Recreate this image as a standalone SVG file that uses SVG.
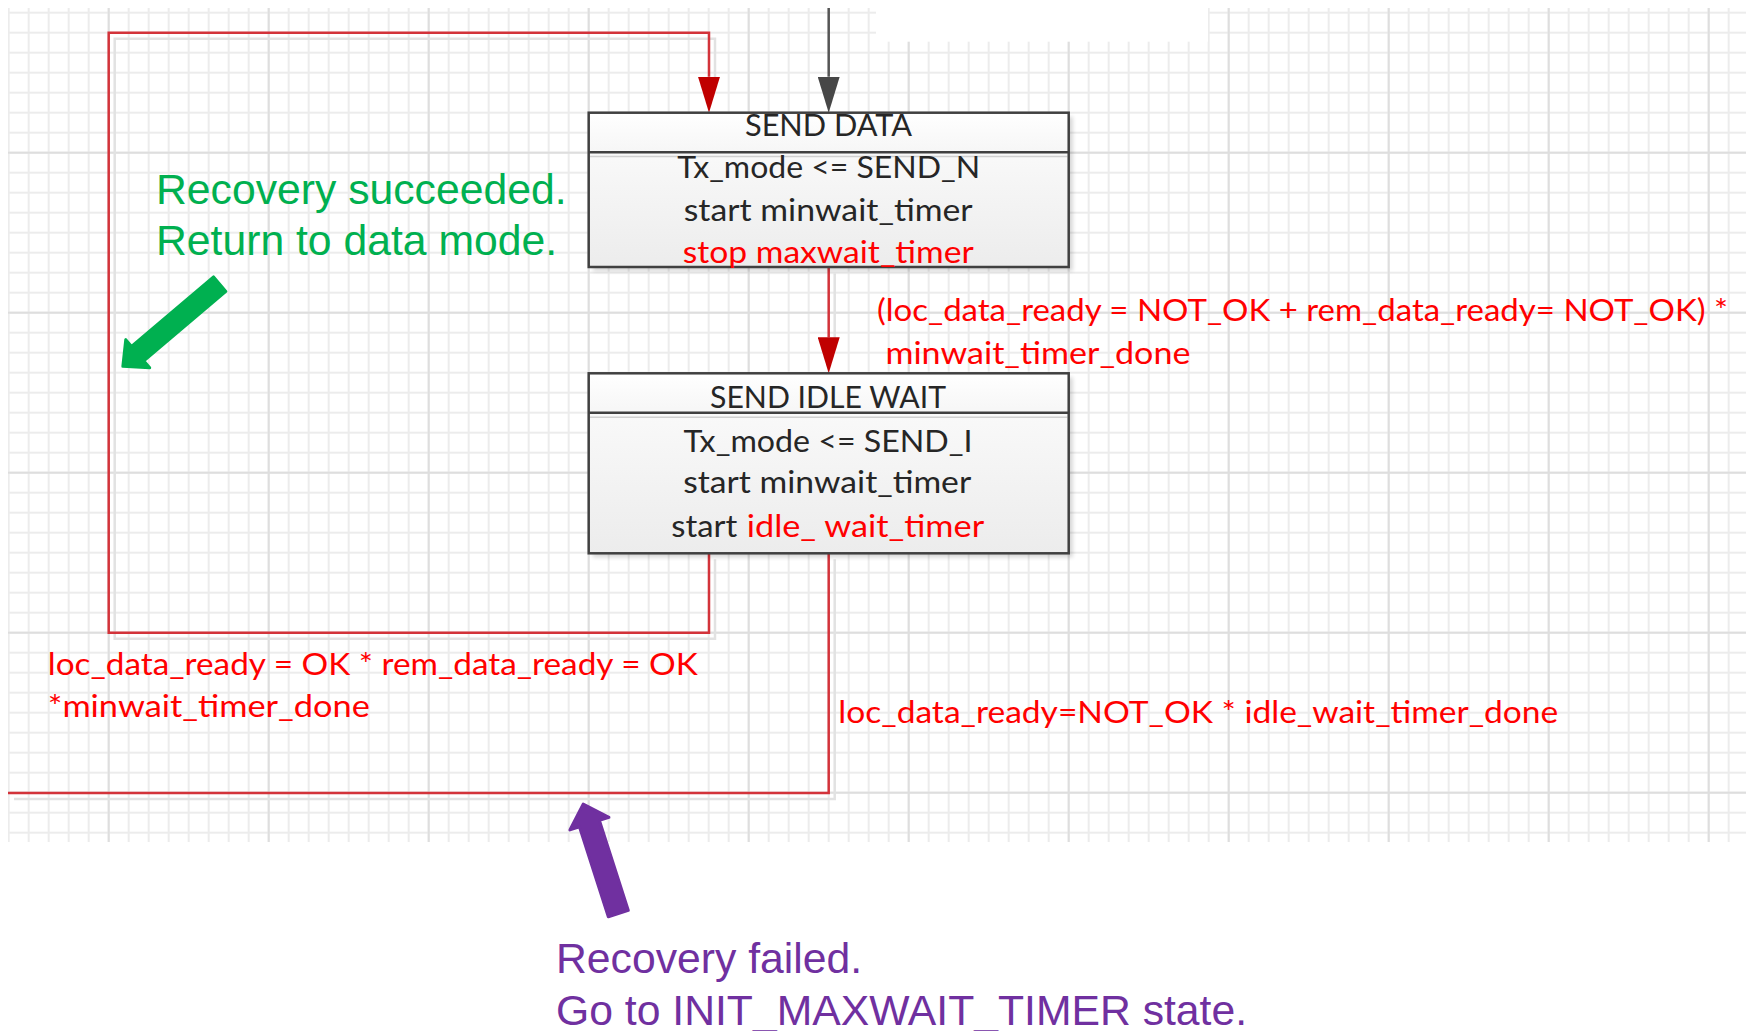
<svg xmlns="http://www.w3.org/2000/svg" width="1749" height="1031" viewBox="0 0 1749 1031">
  <defs>
    <!-- drawing-page grid: 20 px minor cells, 160 px major cells -->
    <pattern id="gridMinor" patternUnits="userSpaceOnUse" x="7.7" y="11.7" width="20" height="20">
      <rect x="0" y="0" width="2" height="20" fill="#ECECEC"/>
      <rect x="0" y="0" width="20" height="2" fill="#ECECEC"/>
    </pattern>
    <pattern id="gridMajor" patternUnits="userSpaceOnUse" x="107.7" y="151.7" width="160" height="160">
      <rect x="0" y="0" width="2" height="160" fill="#DEDEDE"/>
      <rect x="0" y="0" width="160" height="2" fill="#DEDEDE"/>
    </pattern>
    <linearGradient id="headFill" x1="0" y1="0" x2="0" y2="1">
      <stop offset="0" stop-color="#FFFFFF"/>
      <stop offset="1" stop-color="#F6F6F6"/>
    </linearGradient>
    <linearGradient id="bodyFill" x1="0" y1="0" x2="0" y2="1">
      <stop offset="0" stop-color="#F9F9F9"/>
      <stop offset="1" stop-color="#ECECEC"/>
    </linearGradient>
    <filter id="softShadow" x="-5%" y="-10%" width="110%" height="120%">
      <feGaussianBlur stdDeviation="2"/>
    </filter>
    <marker id="headRed" markerUnits="userSpaceOnUse" viewBox="0 0 36 22" markerWidth="36" markerHeight="22" refX="0" refY="11" orient="auto">
      <path d="M0,0 L36,11 L0,22 Z" fill="#C00000"/>
    </marker>
    <marker id="headDark" markerUnits="userSpaceOnUse" viewBox="0 0 36 22" markerWidth="36" markerHeight="22" refX="0" refY="11" orient="auto">
      <path d="M0,0 L36,11 L0,22 Z" fill="#474747"/>
    </marker>
  </defs>
  <style>
    .box{stroke:#404040;stroke-width:2.5}
    .sep{stroke:#404040;stroke-width:2.5}
    .sep-light{stroke:#D0D0D0;stroke-width:1.5}
    .wire{fill:none;stroke:#D3333A;stroke-width:2.5}
    .wire-dark{fill:none;stroke:#555555;stroke-width:2.5}
    .wire-shadow{fill:none;stroke:#E2E2E2;stroke-width:2.5}
    .state{font-family:Lato,"Liberation Sans",sans-serif;font-size:30px;fill:#262626}
    .red{fill:#FF0000}
    .cond{font-family:Lato,"Liberation Sans",sans-serif;font-size:30px;fill:#FF0000}
    .note{font-family:"Liberation Sans",Arial,sans-serif;font-size:42.7px}
  </style>

  <!-- page background and grid -->
  <g id="grid">
    <rect x="0" y="0" width="1749" height="1031" fill="#FFFFFF"/>
    <rect x="8" y="8" width="1738" height="834" fill="url(#gridMinor)"/>
    <rect x="8" y="8" width="1738" height="834" fill="url(#gridMajor)"/>
    <rect x="876" y="0" width="332" height="41.7" fill="#FFFFFF"/>
  </g>

  <!-- transitions -->
  <g id="connectors">
    <g id="connector-shadows">
      <path class="wire-shadow" d="M715,559.3 V638.7 H114.7 V38.7 H715 V82.7"/>
      <path class="wire-shadow" d="M834.7,273.5 V343.3"/>
      <path class="wire-shadow" d="M834.7,559.3 V799 H14"/>
    </g>
    <!-- entry into SEND DATA -->
    <path class="wire-dark" d="M828.7,8 V76.7" marker-end="url(#headDark)"/>
    <!-- SEND IDLE WAIT back to SEND DATA (recovery succeeded) -->
    <path class="wire" d="M709,553.3 V632.7 H108.7 V32.7 H709 V76.7" marker-end="url(#headRed)"/>
    <!-- SEND DATA to SEND IDLE WAIT -->
    <path class="wire" d="M828.7,267.5 V337.3" marker-end="url(#headRed)"/>
    <!-- SEND IDLE WAIT out (recovery failed) -->
    <path class="wire" d="M828.7,553.3 V793 H8"/>
  </g>

  <!-- state: SEND DATA -->
  <g id="node-send-data">
    <rect x="592.7" y="116.7" width="480" height="154.3" fill="#000000" opacity="0.16" filter="url(#softShadow)"/>
    <rect x="588.7" y="112.7" width="480" height="39.6" fill="url(#headFill)"/>
    <rect x="588.7" y="152.3" width="480" height="114.7" fill="url(#bodyFill)"/>
    <line class="sep-light" x1="590" y1="156.5" x2="1067.4" y2="156.5"/>
    <rect class="box" x="588.7" y="112.7" width="480" height="154.3" fill="none"/>
    <line class="sep" x1="588.7" y1="152.3" x2="1068.7" y2="152.3"/>
    <text class="state" x="828.5" y="135.7" text-anchor="middle" textLength="167" lengthAdjust="spacingAndGlyphs">SEND DATA</text>
    <text class="state" x="828.7" y="178.3" text-anchor="middle" textLength="303" lengthAdjust="spacingAndGlyphs">Tx_mode &lt;= SEND_N</text>
    <text class="state" x="828.2" y="220.7" text-anchor="middle" textLength="289" lengthAdjust="spacingAndGlyphs">start minwait_timer</text>
    <text class="state red" x="828.2" y="263.3" text-anchor="middle" textLength="291" lengthAdjust="spacingAndGlyphs">stop maxwait_timer</text>
  </g>

  <!-- state: SEND IDLE WAIT -->
  <g id="node-send-idle-wait">
    <rect x="592.7" y="377.3" width="480" height="180" fill="#000000" opacity="0.16" filter="url(#softShadow)"/>
    <rect x="588.7" y="373.3" width="480" height="39.4" fill="url(#headFill)"/>
    <rect x="588.7" y="412.7" width="480" height="140.6" fill="url(#bodyFill)"/>
    <line class="sep-light" x1="590" y1="417.3" x2="1067.4" y2="417.3"/>
    <rect class="box" x="588.7" y="373.3" width="480" height="180" fill="none"/>
    <line class="sep" x1="588.7" y1="412.7" x2="1068.7" y2="412.7"/>
    <text class="state" x="828" y="408.3" text-anchor="middle" textLength="236" lengthAdjust="spacingAndGlyphs">SEND IDLE WAIT</text>
    <text class="state" x="828" y="451.7" text-anchor="middle" textLength="289" lengthAdjust="spacingAndGlyphs">Tx_mode &lt;= SEND_I</text>
    <text class="state" x="827.2" y="493.3" text-anchor="middle" textLength="288" lengthAdjust="spacingAndGlyphs">start minwait_timer</text>
    <text class="state" x="671.3" y="536.7" textLength="66" lengthAdjust="spacingAndGlyphs">start</text>
    <text class="state red" x="746.7" y="536.7" textLength="237.5" lengthAdjust="spacingAndGlyphs">idle_ wait_timer</text>
  </g>

  <!-- transition conditions -->
  <g id="labels">
    <text class="cond" x="877" y="321" textLength="851" lengthAdjust="spacingAndGlyphs">(loc_data_ready = NOT_OK + rem_data_ready= NOT_OK) *</text>
    <text class="cond" x="885.4" y="363.5" textLength="305" lengthAdjust="spacingAndGlyphs">minwait_timer_done</text>
    <text class="cond" x="47.8" y="675" textLength="650" lengthAdjust="spacingAndGlyphs">loc_data_ready = OK * rem_data_ready = OK</text>
    <text class="cond" x="47.8" y="716.7" textLength="322" lengthAdjust="spacingAndGlyphs">*minwait_timer_done</text>
    <text class="cond" x="838.3" y="723.3" textLength="720" lengthAdjust="spacingAndGlyphs">loc_data_ready=NOT_OK * idle_wait_timer_done</text>
  </g>

  <!-- callout: successful recovery -->
  <g id="note-success">
    <text class="note" x="156" y="203.5" fill="#00B050">Recovery succeeded.</text>
    <text class="note" x="156" y="255" fill="#00B050">Return to data mode.</text>
    <polygon transform="translate(121.7,367.3) rotate(139.7)" points="-1.5,0 -21,-18.5 -21,-9.5 -128.5,-9.5 -128.5,9.5 -21,9.5 -21,18.5" fill="#00B050" stroke="#00B050" stroke-width="3" stroke-linejoin="round"/>
  </g>

  <!-- callout: failed recovery -->
  <g id="note-failure">
    <polygon transform="translate(582.7,802.7) rotate(-107.8)" points="-1.5,0 -22,-20.5 -22,-10.5 -116.5,-10.5 -116.5,10.5 -22,10.5 -22,20.5" fill="#7030A0" stroke="#7030A0" stroke-width="3" stroke-linejoin="round"/>
    <text class="note" x="556" y="972.7" fill="#7030A0">Recovery failed.</text>
    <text class="note" x="556" y="1025" fill="#7030A0">Go to INIT_MAXWAIT_TIMER state.</text>
  </g>
</svg>
